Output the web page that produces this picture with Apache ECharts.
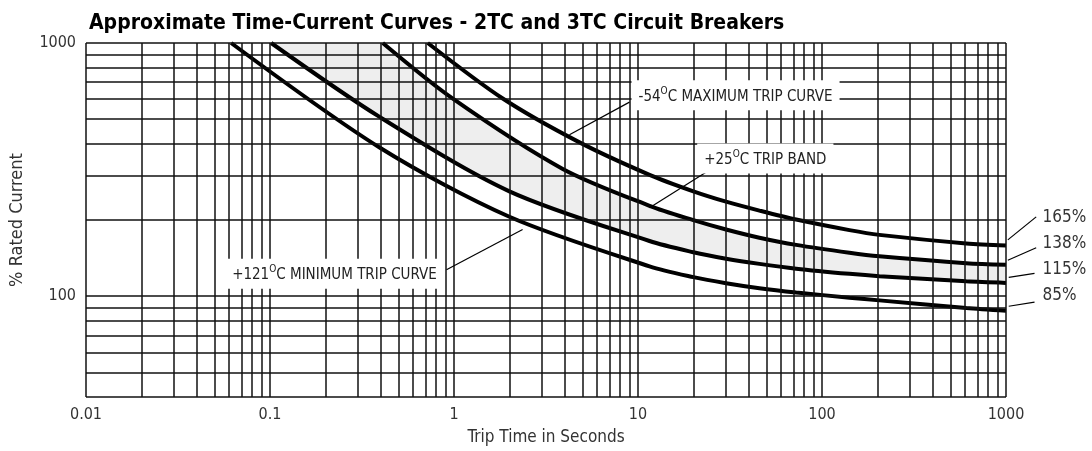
<!DOCTYPE html>
<html><head><meta charset="utf-8">
<script src="https://cdn.jsdelivr.net/npm/echarts@6/dist/echarts.min.js"></script>
<style>html,body{margin:0;padding:0;background:#fff}#c{width:1092px;height:451px}</style>
</head><body><div id="c"></div>
<script>
const F = '"Liberation Sans Narrow","DejaVu Sans Condensed","Arial Narrow",sans-serif';
const chartTitle = 'Approximate Time-Current Curves - 2TC and 3TC Circuit Breakers';
const xName = 'Trip Time in Seconds';
const yName = '% Rated Current';
const xTickValues = [0.01, 0.1, 1, 10, 100, 1000];
const xTickLabels = ['0.01', '0.1', '1', '10', '100', '1000'];
const yTickValues = [100, 1000];
const yTickLabels = ['100', '1000'];

// trip time (s) and % rated current for each curve
const curve85T  = [0.0615, 0.394, 2.0, 11.55, 20.0, 30.1, 45.7, 72.4, 141, 205, 608, 1000];
const curve85I  = [1000,   386.6, 206, 131.3, 119, 112.6, 107.6, 103.5, 98.7, 96.3, 89.8, 87.6];
const curve115T = [0.1015, 0.394, 2.0, 11.55, 20.0, 30.1, 45.7, 72.4, 141, 205, 608, 1000];
const curve115I = [1000,   510.6, 259.6, 165.2, 149.2, 140.7, 134.2, 128.5, 122.6, 120, 114.5, 112.9];
const curve138T = [0.41, 0.981, 3.9, 11.55, 20.0, 30.1, 45.7, 72.4, 141, 205, 608, 1000];
const curve138I = [1000, 604.2, 318.2, 227.6, 199.8, 183.5, 170.3, 159.5, 148.5, 143.8, 135.1, 133.2];
const curve165T = [0.72, 1.84, 4.81, 11.55, 20.0, 30.1, 45.7, 72.4, 141, 205, 608, 1000];
const curve165I = [1000, 603.7, 405.1, 301.6, 259.6, 236.3, 217.9, 200.8, 182.4, 174.7, 161.6, 158.7];
const endLabels = ['85%', '115%', '138%', '165%'];

// annotation anchors in data coordinates [seconds, %]
const noteTexts = [
  ['-54', 'C MAXIMUM TRIP CURVE'],
  ['+25', 'C TRIP BAND'],
  ['+121', 'C MINIMUM TRIP CURVE']
];
const noteAt   = [[33.9, 622], [49.2, 350], [0.224, 122.7]];
const noteFrom = [[4.24, 434.5], [11.55, 223.7], [2.36, 183.6]];
const noteTo   = [[8.99, 584], [23.9, 311.8], [0.91, 127.2]];
const endFrom  = [[1035, 91.3], [1035, 118.7], [1023, 138.7], [1023, 166.9]];
const endTo    = [[1429, 94.8], [1429, 123], [1459, 155.3], [1459, 205.8]];
const endAt    = [[1579, 100.6], [1579, 127.3], [1579, 161.5], [1579, 205]];

const xGrid = [];
for (let e = -2; e <= 2; e++) for (let m = 1; m <= 9; m++) xGrid.push(+(m * Math.pow(10, e)).toPrecision(3));
xGrid.push(1000);
const yGrid = [40, 50, 60, 70, 80, 90];
for (let m = 1; m <= 10; m++) yGrid.push(m * 100);

function pairs(T, I) { return T.map((t, i) => [t, I[i]]); }
const SM = 0.3;
const curves = [pairs(curve85T, curve85I), pairs(curve115T, curve115I), pairs(curve138T, curve138I), pairs(curve165T, curve165I)];

const chart = echarts.init(document.getElementById('c'), null, {renderer: 'canvas'});
const option = {
  animation: false,
  backgroundColor: '#fff',
  title: {text: chartTitle, left: 84, top: 8, textStyle: {fontFamily: F, fontWeight: 'bold', fontSize: 21, color: '#000'}},
  grid: {left: 86, right: 86, top: 43, bottom: 51, containLabel: false},
  xAxis: {
    type: 'log', logBase: 10, min: 0.01, max: 1000, splitNumber: 5,
    axisLine: {show: false}, axisTick: {show: false}, splitLine: {show: false},
    axisLabel: {fontFamily: F, fontSize: 16, color: '#333', margin: 10,
      formatter: v => { const i = xTickValues.findIndex(t => Math.abs(t - v) / t < 1e-6); return i >= 0 ? xTickLabels[i] : ''; }},
    name: xName, nameLocation: 'middle', nameGap: 32,
    nameTextStyle: {fontFamily: F, fontSize: 17, color: '#333'}
  },
  yAxis: {
    type: 'log', logBase: 10, min: 40, max: 1000,
    axisLine: {show: false}, axisTick: {show: false}, splitLine: {show: false},
    axisLabel: {fontFamily: F, fontSize: 16, color: '#333', margin: 10,
      formatter: v => { const i = yTickValues.findIndex(t => Math.abs(t - v) / t < 1e-6); return i >= 0 ? yTickLabels[i] : ''; }},
    name: yName, nameLocation: 'middle', nameGap: 60,
    nameTextStyle: {fontFamily: F, fontSize: 18, color: '#333'}
  },
  series: [
    {type: 'line', data: curves[1], smooth: SM, symbol: 'none', silent: true, z: 1,
     lineStyle: {width: 0}, areaStyle: {color: '#eeeeee', opacity: 1, origin: 'end'}},
    {type: 'line', data: curves[2], smooth: SM, symbol: 'none', silent: true, z: 2,
     lineStyle: {width: 0}, areaStyle: {color: '#ffffff', opacity: 1, origin: 'end'}},
    {type: 'line', data: [], symbol: 'none', silent: true, z: 3,
     markLine: {silent: true, symbol: ['none', 'none'], label: {show: false}, emphasis: {disabled: true},
       lineStyle: {color: '#111', width: 1.5, type: 'solid'},
       data: xGrid.map(v => ({xAxis: v})).concat(yGrid.map(v => ({yAxis: v})))}},
  ].concat(curves.map((d, i) => ({
    name: endLabels[i], type: 'line', data: d, smooth: SM, symbol: 'none', silent: true, z: 4,
    lineStyle: {color: '#000', width: 4}
  })))
};
chart.setOption(option);

const px = p => chart.convertToPixel({gridIndex: 0}, p);
const graphics = [];
noteTexts.forEach((nt, i) => {
  const a = px(noteFrom[i]), b = px(noteTo[i]), c = px(noteAt[i]);
  graphics.push({type: 'line', z: 50, silent: true, shape: {x1: a[0], y1: a[1], x2: b[0], y2: b[1]}, style: {stroke: '#000', lineWidth: 1.2}});
  graphics.push({type: 'text', z: 60, silent: true, x: c[0], y: c[1], style: {
    text: '{a|' + nt[0] + '}{s|O}{a|' + nt[1] + '}',
    align: 'center', verticalAlign: 'middle', backgroundColor: '#fff', padding: [6, 7],
    rich: {a: {fontFamily: F, fontSize: 15, fill: '#222', lineHeight: 18, verticalAlign: 'bottom'},
           s: {fontFamily: F, fontSize: 10, fill: '#222', lineHeight: 18, verticalAlign: 'top'}}
  }});
});
endLabels.forEach((t, i) => {
  const a = px(endFrom[i]), b = px(endTo[i]), c = px(endAt[i]);
  graphics.push({type: 'line', z: 50, silent: true, shape: {x1: a[0], y1: a[1], x2: b[0], y2: b[1]}, style: {stroke: '#000', lineWidth: 1.2}});
  graphics.push({type: 'text', z: 60, silent: true, x: c[0], y: c[1], style: {
    text: t, font: '17px ' + F, fill: '#333', align: 'left', verticalAlign: 'middle'}});
});
chart.setOption({graphic: graphics});
</script></body></html>
